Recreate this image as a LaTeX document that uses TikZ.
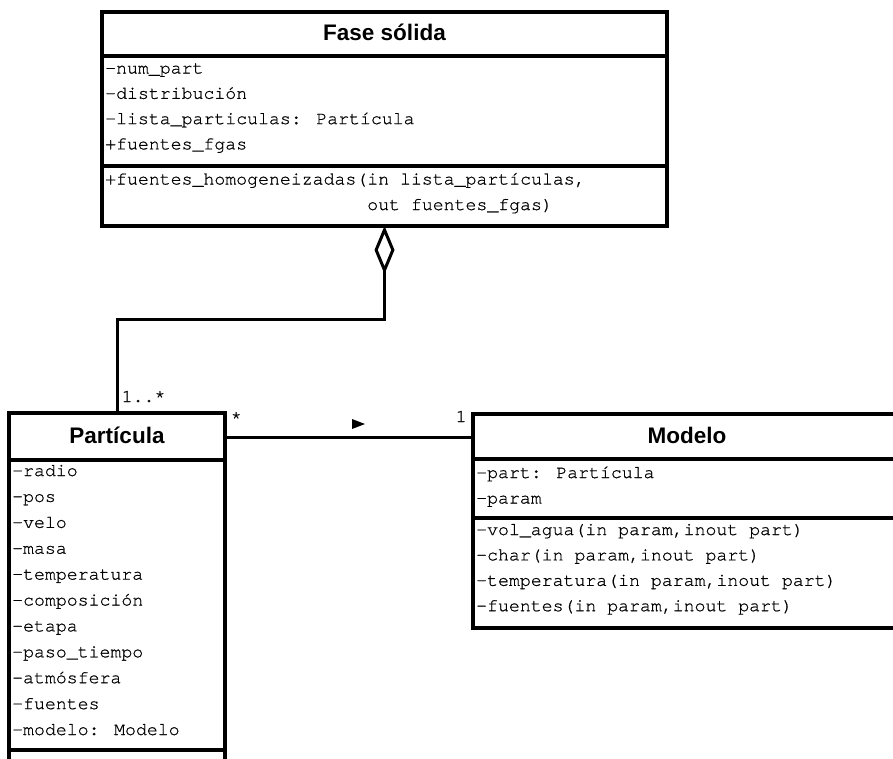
\documentclass[tikz,border=0pt]{standalone}
\usepackage{fontspec}
\setmainfont{Liberation Sans}
\newfontfamily\umlmono[Extension=.otf, FakeBold=0.7]{texgyrecursor-regular}
\usetikzlibrary{arrows.meta}

\begin{document}
\begin{tikzpicture}[x=1pt,y=-1pt,
  classbox/.style={draw, line width=3.5pt, fill=white, inner sep=0pt, outer sep=0pt, anchor=north west},
  sepline/.style={line width=3.5pt},
  conn/.style={line width=3pt},
  title/.style={font=\fontsize{22.5}{26}\selectfont\bfseries, anchor=base, inner sep=0pt},
  member/.style={font=\umlmono\fontsize{18.2}{22}\selectfont, anchor=base west, inner sep=0pt},
]
\useasboundingbox (0,0) rectangle (893,758);
\clip (0,0) rectangle (893,758);

% class boxes
\node[classbox, minimum width=565pt, minimum height=214pt] (fase) at (102,12) {};
\node[classbox, minimum width=216pt, minimum height=360pt] (particula) at (9,413) {};
\node[classbox, minimum width=430pt, minimum height=214pt] (modelo) at (473,414) {};

% compartment separators
\draw[sepline] (fase.west |- 0,56) -- (fase.east |- 0,56);
\draw[sepline] (fase.west |- 0,166) -- (fase.east |- 0,166);
\draw[sepline] (particula.west |- 0,460) -- (particula.east |- 0,460);
\draw[sepline] (particula.west |- 0,750) -- (particula.east |- 0,750);
\draw[sepline] (modelo.west |- 0,459) -- (modelo.east |- 0,459);
\draw[sepline] (modelo.west |- 0,518) -- (modelo.east |- 0,518);

% aggregation: Fase solida <>-- Particula
\draw[conn, {Diamond[open, length=48pt, width=20pt]}-] (fase.south) -- ++(0,93) -| (particula.north);

% association Particula -- Modelo
\draw[conn] (particula.east |- 0,437) -- (modelo.west |- 0,437);
\fill (352,419) -- (365,424) -- (352,429) -- cycle;

% titles
\node[title] (tf) at (384.5,40) {Fase sólida};
\node[title] (tp) at (117,443) {Partícula};
\node[title] (tm) at (687,443) {Modelo};

% Fase solida members
\node[member] (f1) at (105,73.5) {-num\_part};
\node[member] (f2) at (105,98.8) {-distribución};
\node[member] (f3) at (105,124.1) {-lista\_particulas: Partícula};
\node[member] (f4) at (105,149.4) {+fuentes\_fgas};
\node[member] (f5) at (105,184.5) {+fuentes\_homogeneizadas(in lista\_partículas,};
\node[member] (f6) at (105,210) {\hphantom{+fuentes\_homogeneizadas(}out fuentes\_fgas)};

% Particula attributes
\foreach \t [count=\i] in {-radio, -pos, -velo, -masa, -temperatura, -composición,
    -etapa, -paso\_tiempo, -atmósfera, -fuentes, -modelo: Modelo}
  \node[member] (pa\i) at (12,{476+(\i-1)*25.9}) {\t};

% Modelo members
\node[member] (mo1) at (476,478) {-part: Partícula};
\node[member] (mo2) at (476,503.5) {-param};
\node[member] (mo3) at (476,535) {-vol\_agua(in param,inout part)};
\node[member] (mo4) at (476,560.4) {-char(in param,inout part)};
\node[member] (mo5) at (476,585.8) {-temperatura(in param,inout part)};
\node[member] (mo6) at (476,611.2) {-fuentes(in param,inout part)};

% multiplicities
\node[member] (mult1) at (121.5,402) {1..*};
\node[member] (mult2) at (230.5,423) {*};
\node[member] (mult3) at (455.5,422) {1};
\end{tikzpicture}
\end{document}
